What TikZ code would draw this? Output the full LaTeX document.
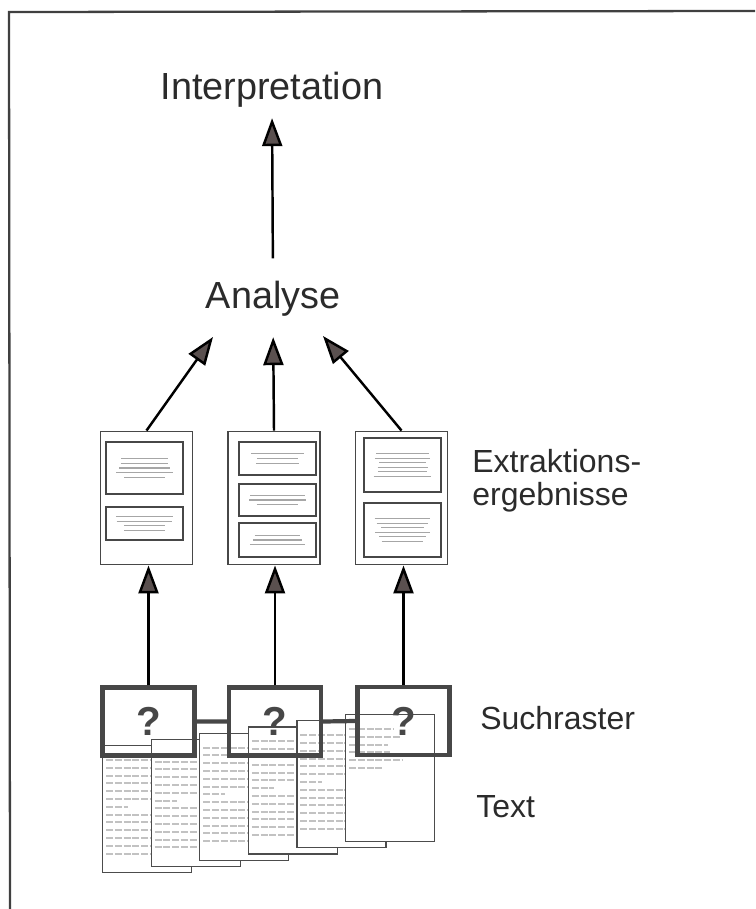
\documentclass[tikz,border=0pt]{standalone}
\usepackage{fontspec}
\setmainfont{Liberation Sans}
\usetikzlibrary{arrows.meta}
\definecolor{ink}{HTML}{2B2B2B}
\definecolor{boxgray}{HTML}{474747}
\definecolor{tipgray}{HTML}{5A504F}
\begin{document}
\begin{tikzpicture}[x=0.02cm,y=-0.02cm,line cap=butt,line join=miter,
		>={Triangle[width=0.4cm,length=0.56cm,fill=tipgray]}]
	\tikzset{big/.style={text=ink,font=\fontsize{21.5}{24}\selectfont,inner sep=0pt,anchor=base},
		lab/.style={text=ink,font=\fontsize{18.2}{20}\selectfont,inner sep=0pt,anchor=base west},
		epage/.style={draw=boxgray,line width=1.1pt,minimum width=1.84cm,minimum height=2.66cm,inner sep=0pt},
		ebox/.style={draw=boxgray,line width=1pt},
		tpage/.style={draw=black!70,fill=white,line width=0.7pt,minimum width=1.78cm,minimum height=2.54cm,inner sep=0pt,anchor=north west},
		raster/.style={draw=boxgray,line width=2.4pt,minimum width=1.84cm,minimum height=1.36cm,inner sep=0pt,
			text=boxgray,font=\fontsize{23}{26}\selectfont\bfseries},
		tline/.style={black!24,line width=1.1pt,dash pattern=on 4pt off 1pt},
		arr/.style={->,line width=1.4pt}}
	\useasboundingbox (0,0) rectangle (755,909);
	\draw[line width=1.3pt,black!75] (755,11)--(9,12)--(10,909);
	\pgfmathsetseed{12}
	% Ebenen
	\node[big] (in) at (272,100) {Interpretation};
	\node[big] (an) at (273,308) {Analyse};
	\foreach \n/\x in {1/146.5,2/274,3/401.5}{
		\node[epage] (e\n) at (\x,498) {};}
	\foreach \xa/\ya/\yb/\k in {106/442/494/5,106/507/540/4,239/442/475/3,239/484/516/3,
		239/523/557/3,364/438/492/6,364/503/557/6}{
		\draw[ebox] (\xa,\ya) rectangle ++(77,\yb-\ya);
		\foreach \j in {1,...,\k}{
			\pgfmathsetmacro\yy{(\ya+\yb)/2+(\j-(\k+1)/2)*4.6}
			\pgfmathsetmacro\ww{20+rnd*9}
			\draw[black!35,line width=0.6pt] (\xa+38.5-\ww,\yy)--(\xa+38.5+\ww,\yy);}}
	\node[lab] (ex1) at (472,472) {Extraktions-};
	\node[lab] (ex2) at (472,505) {ergebnisse};
	% Textseiten
	\foreach \i in {1,...,6}{
		\pgfmathsetmacro\px{102+48.6*(\i-1)}
		\pgfmathsetmacro\py{745-6.2*(\i-1)}
		\node[tpage] (t\i) at (\px,\py) {};
		\pgfmathsetmacro\nr{\i==6 ? 5 : 12}
		\foreach \r in {0,...,\nr}{
			\pgfmathsetmacro\ll{\i==6 ? 30+25*rnd : 50+30*rnd}
			\pgfmathsetmacro\ll{(\r==6 && \i<6) ? 22 : \ll}
			\draw[tline] (\px+4,\py+15+\r*7.8)--++(\ll,0);}}
	\node[raster] (s1) at (148.5,721.5) {?};
	\node[raster] (s2) at (275,721.5) {?};
	\node[raster] (s3) at (403.5,721) {?};
	\draw[boxgray,line width=2.4pt] (s1.east)--(s2.west) (s2.east)--(s3.west);
	\node[lab] (su) at (480,729) {Suchraster};
	\node[lab] (te) at (476,817) {Text};
	% Pfeile
	\foreach \n in {1,2,3}{
		\draw[arr] (s\n.north)--(s\n.north |- e\n.south);}
	\coordinate (a1) at (213,337);
	\coordinate (a3) at (323,336);
	\draw[arr] (e1.north)--(a1);
	\draw[arr,shorten >=0.42cm] (e2.north)--(an.south);
	\draw[arr] (e3.north)--(a3);
	\draw[arr,shorten <=0.44cm,shorten >=0.2cm] (an.north)--(in.south);
\end{tikzpicture}
\end{document}
